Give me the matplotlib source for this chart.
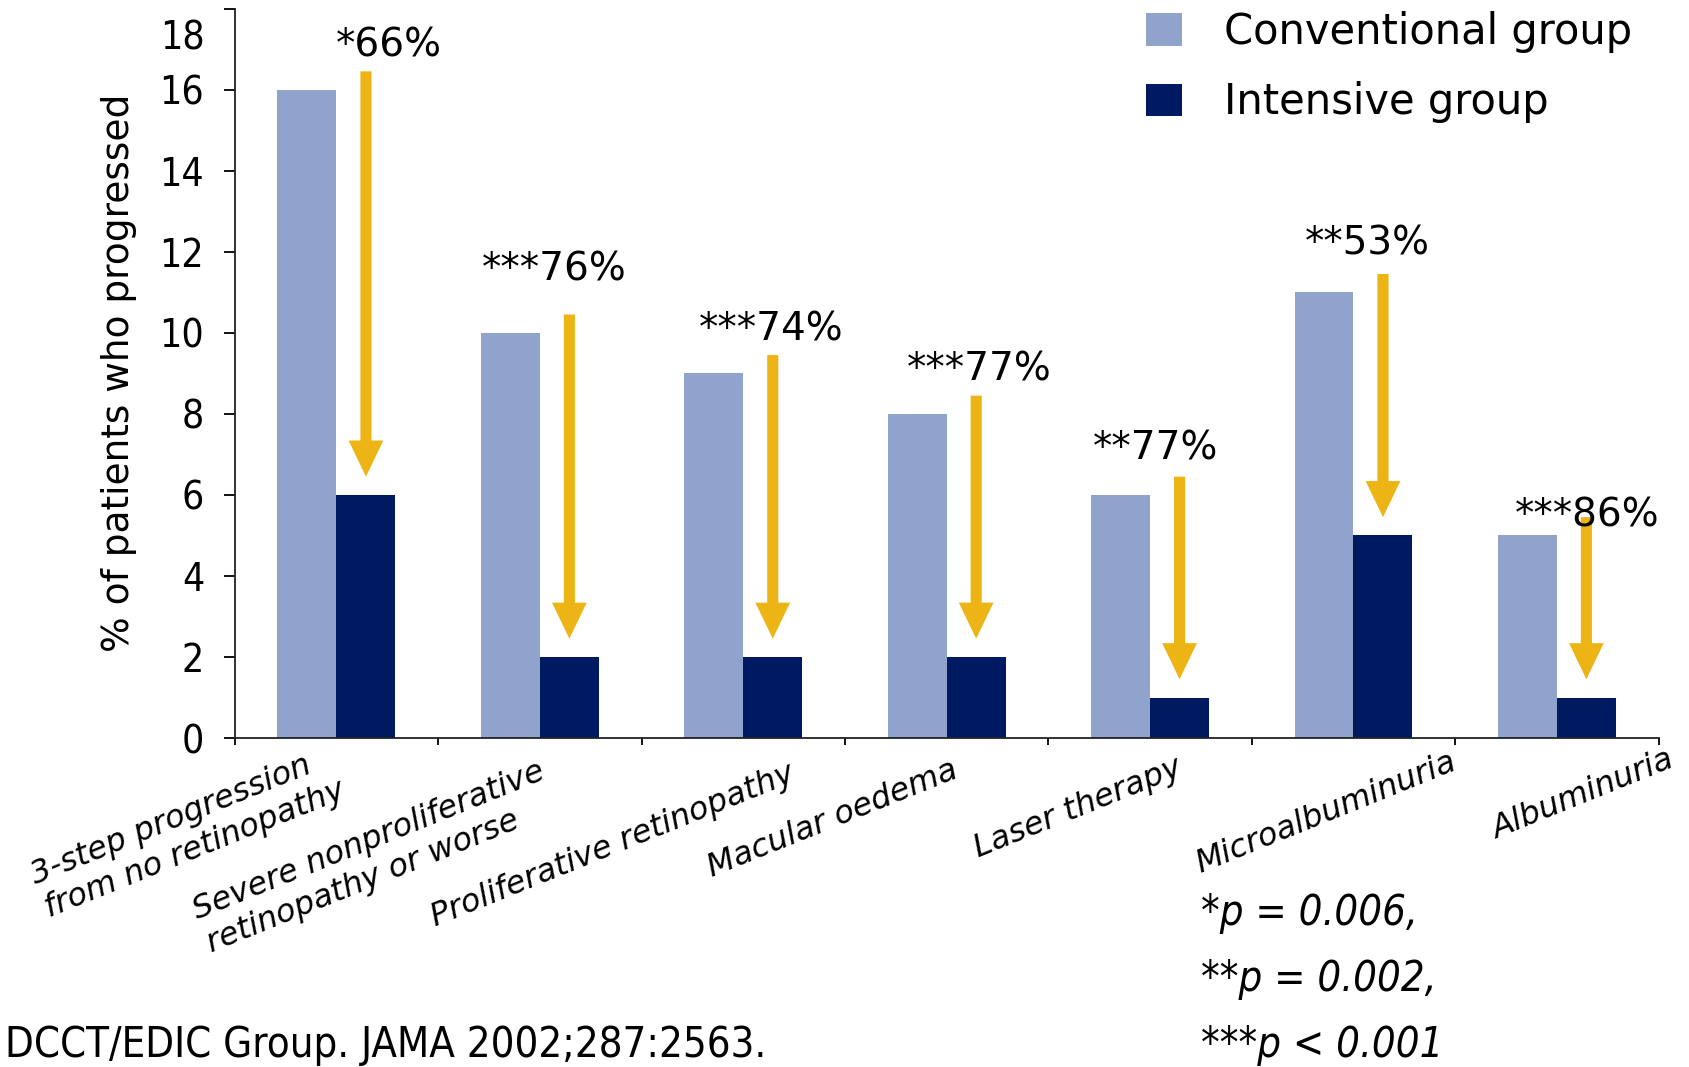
import numpy as np
import matplotlib.pyplot as plt
from matplotlib.transforms import ScaledTranslation, blended_transform_factory

categories = ['3-step progression\nfrom no retinopathy',
              'Severe nonproliferative\nretinopathy or worse',
              'Proliferative retinopathy', 'Macular oedema', 'Laser therapy',
              'Microalbuminuria', 'Albuminuria']
conventional = [16, 10, 9, 8, 6, 11, 5]
intensive = [6, 2, 2, 2, 1, 5, 1]
reductions = ['*66%', '***76%', '***74%', '***77%', '**77%', '**53%', '***86%']
p_notes = ['*p = 0.006,', '**p = 0.002,', '***p < 0.001']
source = 'DCCT/EDIC Group. JAMA 2002;287:2563.'

# placement of the reduction labels (fraction across category, height in data units)
pct_x = [0.76, 0.57, 0.635, 0.66, 0.525, 0.57, 0.65]
pct_y = [17.1, 11.55, 10.08, 9.1, 7.15, 12.2, 5.5]
# nudges for the rotated category labels (right end, in category units / data units)
lab_dx = [-0.06, -0.01, 0.22, 0.02, 0.12, 0.47, 0.54]
lab_dy = [0.1, 0.45, 0.5, 0.4, 0.35, 0.22, 0.15]

light = '#8FA3CC'
dark = '#001A61'
gold = '#EDB416'

fig = plt.figure(figsize=(16.89, 10.67), dpi=100)
ax = fig.add_axes([0.139, 0.3083, 0.843, 0.6837])

x = np.arange(len(categories))
w = 0.29
ax.bar(x + 0.5 - w / 2, conventional, w, color=light, label='Conventional group')
ax.bar(x + 0.5 + w / 2, intensive, w, color=dark, label='Intensive group')

for i in range(len(categories)):
    xa = i + 0.5 + w / 2
    ax.annotate('', xy=(xa, intensive[i] + 0.45), xytext=(xa, conventional[i] + 0.45),
                arrowprops=dict(arrowstyle='simple,head_length=2.6,head_width=2.5,tail_width=0.8',
                                mutation_scale=10, color=gold, lw=0, shrinkA=0, shrinkB=0))
    ax.text(i + pct_x[i], pct_y[i], reductions[i], fontsize=28, ha='center', va='center')
    ax.text(i + 0.5 + lab_dx[i], -lab_dy[i], categories[i], fontsize=23, style='italic',
            rotation=22, rotation_mode='anchor', ha='right', va='top',
            multialignment='left', clip_on=False)

ax.set_xlim(0, 7)
ax.set_ylim(0, 18)
ax.set_xticks(range(8))
ax.set_xticklabels([])
ax.set_yticks(range(0, 19, 2))
ax.set_yticklabels([str(v) if v < 18 else '' for v in range(0, 19, 2)],
                   fontsize=28, fontstretch='condensed')
ax.tick_params(axis='y', direction='out', length=8, width=1.3, pad=14)
ax.tick_params(axis='x', direction='out', length=5, width=1.3)
for s in ['top', 'right']:
    ax.spines[s].set_visible(False)
for s in ['left', 'bottom']:
    ax.spines[s].set_linewidth(1.3)
    ax.spines[s].set_color('#222222')

# the "18" label sits a little lower than its tick in the original
tr = blended_transform_factory(ax.transAxes, ax.transData) + ScaledTranslation(0, -0.30, fig.dpi_scale_trans)
ax.text(-0.021, 18, '18', transform=tr, fontsize=28, fontstretch='condensed', ha='right', va='center')

ax.set_ylabel('% of patients who progressed', fontsize=27, labelpad=16)

fig.legend(loc='upper left', bbox_to_anchor=(1146 / 1689, 1 - 11 / 1067), frameon=False,
           fontsize=30, handlelength=0.86, handleheight=0.82, handletextpad=1.0,
           labelspacing=0.68, borderpad=0, borderaxespad=0)

fig.text(0.003, 1 - 1045 / 1067, source, fontsize=30, fontstretch='condensed', va='center')
for k, note in enumerate(p_notes):
    fig.text(1201 / 1689, 1 - (913 + 66 * k) / 1067, note, fontsize=30, style='italic',
             fontstretch='condensed', va='center')

fig.savefig('out.png', dpi=100)
